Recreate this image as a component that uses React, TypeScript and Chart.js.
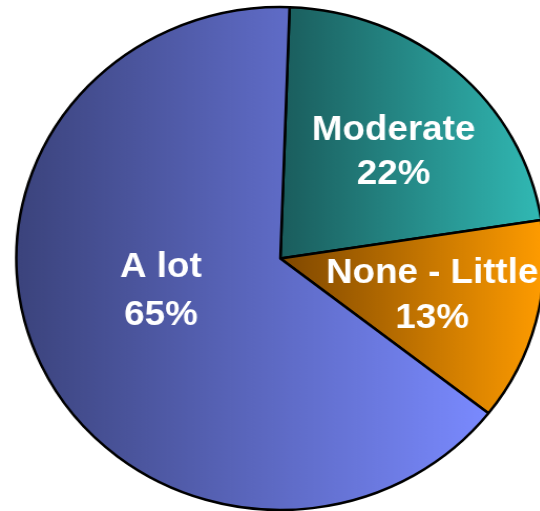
import React, { useEffect, useRef } from "react";
import { Chart, registerables } from "chart.js";

Chart.register(...registerables);

const categories = ["Moderate", "None - Little", "A lot"];
const values = [22, 13, 65];
const percentLabels = ["22%", "13%", "65%"];

const darkColors = ["#1a5c5c", "#7e4700", "#3b437c"];
const lightColors = ["#31b9b4", "#ff9c00", "#7a8aff"];

// label placement style: angle shift (deg), radius fraction, second line gap (px)
const labelAngleShift = [0.7, -5.1, 16];
const labelRadiusFrac = [0.637, 0.583, 0.458];
const labelLineGap = [44, 45.5, 48];

const ROTATION = 2;
const RADIUS = 251.5;

function sliceGradient(ctx: any) {
  const chart = ctx.chart;
  const area = chart.chartArea;
  const i = ctx.dataIndex;
  if (!area) return lightColors[i];
  const cx = (area.left + area.right) / 2;
  const total = values.reduce((a, b) => a + b, 0);
  let before = 0;
  for (let k = 0; k < i; k++) before += values[k];
  const start = ((-90 + ROTATION) * Math.PI) / 180 + (before / total) * 2 * Math.PI;
  const end = start + (values[i] / total) * 2 * Math.PI;
  let minX = cx;
  let maxX = cx;
  const steps = 200;
  for (let s = 0; s <= steps; s++) {
    const a = start + ((end - start) * s) / steps;
    const x = cx + Math.cos(a) * RADIUS;
    minX = Math.min(minX, x);
    maxX = Math.max(maxX, x);
  }
  const g = chart.ctx.createLinearGradient(minX, 0, maxX, 0);
  g.addColorStop(0, darkColors[i]);
  g.addColorStop(1, lightColors[i]);
  return g;
}

const labelPlugin = {
  id: "sliceLabels",
  afterDatasetsDraw(chart: any) {
    const meta = chart.getDatasetMeta(0);
    const c = chart.ctx;
    c.save();
    c.fillStyle = "#ffffff";
    c.font = 'bold 35px "Liberation Sans", Arial, sans-serif';
    c.textAlign = "center";
    c.textBaseline = "alphabetic";
    meta.data.forEach((el: any, i: number) => {
      const mid = (el.startAngle + el.endAngle) / 2 + (labelAngleShift[i] * Math.PI) / 180;
      const r = el.outerRadius * labelRadiusFrac[i];
      const x = el.x + Math.cos(mid) * r;
      const y = el.y + Math.sin(mid) * r;
      c.fillText(categories[i], x, y);
      c.fillText(percentLabels[i], x, y + labelLineGap[i]);
    });
    c.restore();
  },
};

export default function App() {
  const ref = useRef<HTMLCanvasElement | null>(null);
  useEffect(() => {
    document.body.style.margin = "0";
    if (!ref.current) return;
    const chart = new Chart(ref.current, {
      type: "pie",
      data: {
        labels: categories,
        datasets: [
          {
            data: values,
            backgroundColor: sliceGradient as any,
            borderColor: "#000000",
            borderWidth: 2.5,
          },
        ],
      },
      options: {
        animation: false,
        responsive: false,
        rotation: ROTATION,
        radius: RADIUS,
        layout: { padding: { top: 6, bottom: 0, left: 0, right: 0 } },
        plugins: {
          legend: { display: false },
          tooltip: { enabled: false },
        },
      } as any,
      plugins: [labelPlugin],
    });
    return () => chart.destroy();
  }, []);
  return (
    <div
      style={{
        position: "fixed",
        left: 0,
        top: 0,
        width: 540,
        height: 511,
        overflow: "hidden",
        background: "#ffffff",
      }}
    >
      <div
        style={{
          width: 534,
          height: 511,
          transform: "scaleX(1.05)",
          transformOrigin: "0 0",
        }}
      >
        <canvas ref={ref} width={534} height={511} style={{ display: "block" }} />
      </div>
    </div>
  );
}
